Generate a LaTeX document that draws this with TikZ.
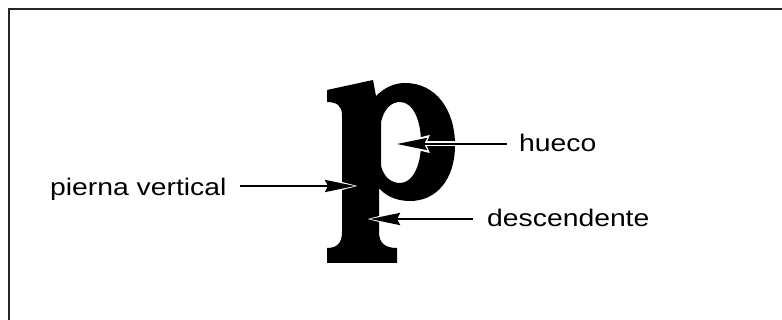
\documentclass[tikz,border=0pt]{standalone}
\usepackage{fontspec}
\setmainfont{Liberation Sans}
\usetikzlibrary{arrows.meta}
\tikzset{
  lbl/.style={anchor=base west, inner sep=0pt, font=\fontsize{24pt}{28pt}\selectfont},
  halo/.style={draw=white, line width=5pt, -{Stealth[length=35pt,width=17pt,inset=3pt]}, shorten >=-3pt},
  arr/.style={draw=black, line width=2.8pt, -{Stealth[length=30pt,width=12pt,inset=3pt]}},
  glyph/.style={fill=black, even odd rule},
  frame/.style={draw=black!85, line width=2pt}
}
\newcommand{\wlbl}[1]{\scalebox{1.18}[1]{#1}}
\begin{document}
\begin{tikzpicture}[x=1pt,y=-1pt]
\useasboundingbox (0,0) rectangle (782,320);
\fill[white] (0,0) rectangle (782,320);
\draw[frame] (9,340) -- (9,9) -- (800,9);
% the letter p
\path[glyph]
  (327,90) -- (373,80) -- (376,96)
  .. controls (385,87) and (395,83) .. (405,83)
  .. controls (436,83) and (455,110) .. (455,145)
  .. controls (455,180) and (436,201) .. (410,201)
  .. controls (395,201) and (385,195) .. (379,188)
  -- (379,232)
  .. controls (379,243) and (385,248) .. (397,248)
  -- (397,263) -- (327,263) -- (327,248)
  .. controls (337,248) and (342,243) .. (342,232)
  -- (342,115)
  .. controls (342,106) and (337,102) .. (327,102) -- cycle
  (381,122) .. controls (384,109) and (391,102) .. (400,102)
  .. controls (413,102) and (421,120) .. (421,143)
  .. controls (421,167) and (412,183) .. (400,183)
  .. controls (391,183) and (384,177) .. (381,166) -- cycle;
% labels
\node[lbl] (pv) at (50,196) {\wlbl{pierna vertical}};
\node[lbl] (hu) at (519,152) {\wlbl{hueco}};
\node[lbl] (de) at (487,227) {\wlbl{descendente}};
% connector ends
\coordinate (pvs) at (240,186);
\coordinate (pvt) at (355,186);
\coordinate (hus) at (507,144);
\coordinate (hut) at (397,144);
\coordinate (des) at (473,219);
\coordinate (det) at (370,219);
% arrows
\foreach \s/\t in {pvs/pvt,hus/hut,des/det}{
  \draw[halo] (\s) -- (\t);
  \draw[arr] (\s) -- (\t);
}
\end{tikzpicture}
\end{document}
